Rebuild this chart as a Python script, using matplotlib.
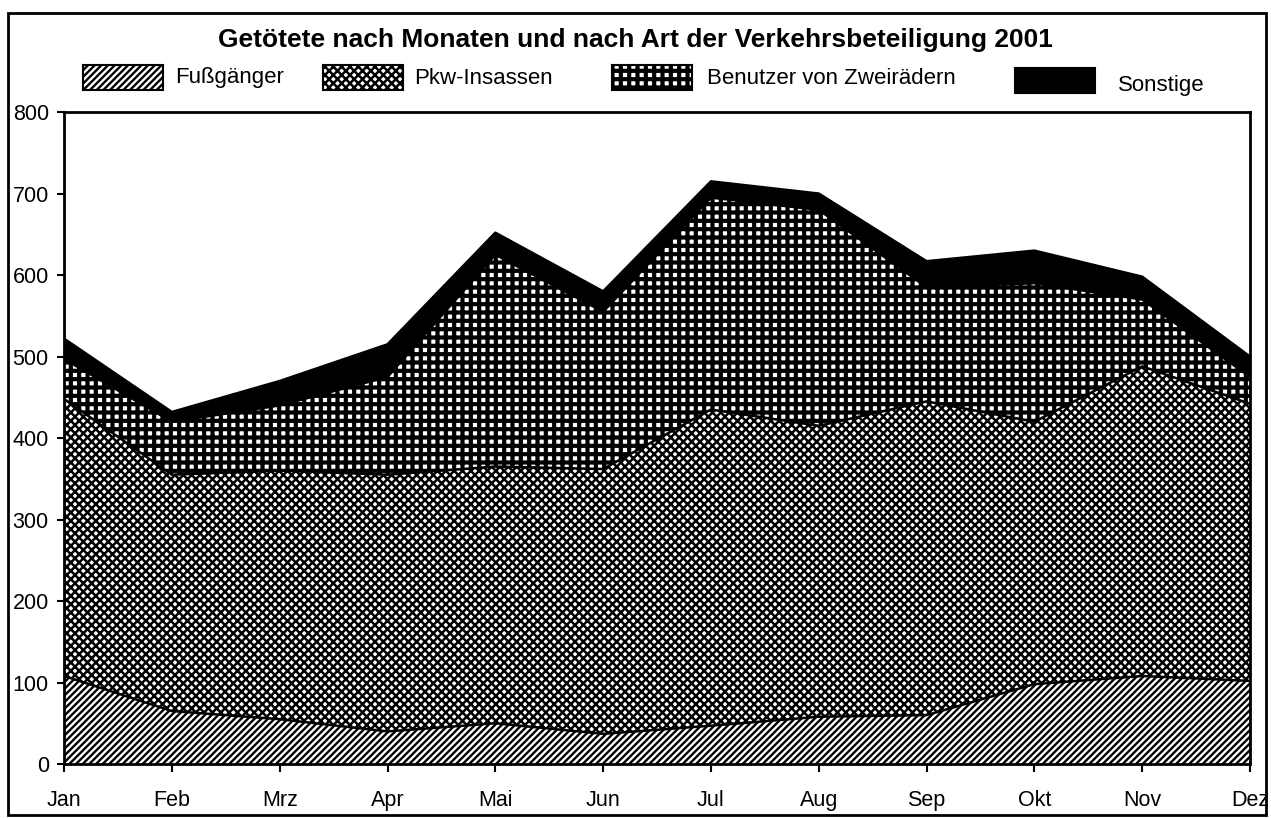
import matplotlib.pyplot as plt
from matplotlib.patches import Rectangle
import numpy as np

plt.rcParams["font.family"] = ["Liberation Sans", "DejaVu Sans"]

months = ["Jan", "Feb", "Mrz", "Apr", "Mai", "Jun", "Jul", "Aug", "Sep", "Okt", "Nov", "Dez"]
fussgaenger = [108, 65, 55, 40, 50, 37, 47, 58, 60, 98, 108, 102]
pkw_insassen = [340, 290, 305, 315, 315, 325, 388, 357, 385, 322, 380, 340]
zweiraeder = [49, 65, 80, 120, 260, 193, 260, 265, 140, 170, 82, 33]
sonstige = [25, 12, 30, 40, 27, 25, 20, 20, 32, 40, 28, 25]

labels = ["Fußgänger", "Pkw-Insassen", "Benutzer von Zweirädern", "Sonstige"]
hatches = ["/////", "xxxx", "++", None]
hatch_lw = [1.7, 1.8, 3.0, 1.0]
faces = ["white", "white", "white", "black"]

plt.rcParams["hatch.color"] = "black"
plt.rcParams["hatch.linewidth"] = 1.7

fig = plt.figure(figsize=(12.71, 8.18), dpi=100)
ax = fig.add_axes([0.0504, 0.066, 0.9331, 0.797])

x = np.arange(len(months))
series = [fussgaenger, pkw_insassen, zweiraeder, sonstige]
base = np.zeros(len(months))
for vals, h, lw, fc in zip(series, hatches, hatch_lw, faces):
    top = base + np.array(vals)
    with plt.rc_context({"hatch.linewidth": lw}):
        poly = ax.fill_between(x, base, top, facecolor=fc, edgecolor="black",
                               hatch=h, linewidth=0)
        if hasattr(poly, "set_hatch_linewidth"):
            poly.set_hatch_linewidth(lw)
    ax.plot(x, top, color="black", lw=1.8)
    base = top

ax.set_xlim(0, 11)
ax.set_ylim(0, 800)
ax.set_xticks(x)
ax.set_xticklabels(months, fontsize=15.5)
ax.set_yticks(range(0, 801, 100))
ax.tick_params(axis="y", labelsize=15.5, length=5, width=1.5, pad=6)
ax.tick_params(axis="x", length=6, width=1.5, pad=13)
for s in ax.spines.values():
    s.set_linewidth(2)

fig.text(0.5, 0.951, "Getötete nach Monaten und nach Art der Verkehrsbeteiligung 2001",
         ha="center", va="center", fontsize=19, fontweight="bold")

# legend row
leg_boxes = [(83, 65), (323, 65), (612, 65), (1015, 68)]
leg_text = [(175, 78), (414, 78), (707, 78), (1118, 86)]
for i in range(4):
    bx, by = leg_boxes[i]
    r = Rectangle((bx / 1271, 1 - (by + 25) / 818), 80 / 1271, 25 / 818,
                  transform=fig.transFigure, facecolor=faces[i], edgecolor="black",
                  hatch=hatches[i], linewidth=1.5)
    if hasattr(r, "set_hatch_linewidth"):
        r.set_hatch_linewidth(hatch_lw[i])
    fig.add_artist(r)
    tx, ty = leg_text[i]
    fig.text(tx / 1271, 1 - ty / 818, labels[i], ha="left", va="center", fontsize=16)

# outer frame
fig.add_artist(Rectangle((8 / 1271, 1 - 815 / 818), 1258 / 1271, 802 / 818,
                         transform=fig.transFigure, fill=False, edgecolor="black", linewidth=2))

fig.savefig("out.png", dpi=100)
